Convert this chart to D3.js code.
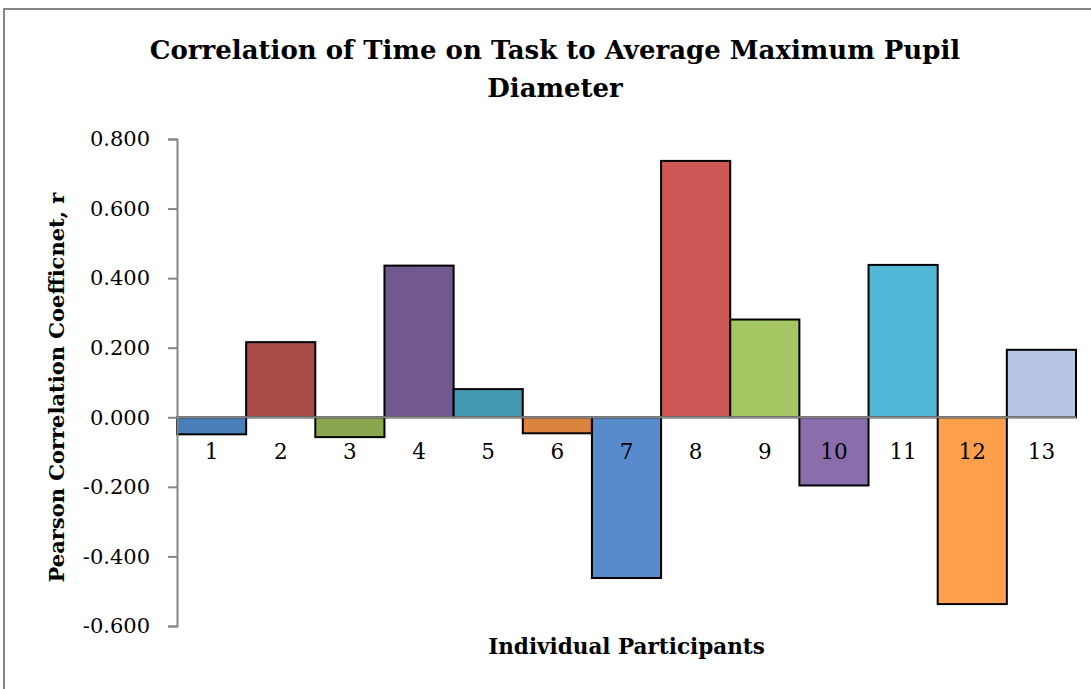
<!DOCTYPE html>
<html>
<head>
<meta charset="utf-8">
<script src="https://cdn.jsdelivr.net/npm/d3@7"></script>
<style>
  body { margin: 0; background: #fff; }
  svg { display: block; }
  text { font-family: "DejaVu Serif", serif; fill: #000; }
</style>
</head>
<body>
<svg id="chart" width="1091" height="689"></svg>
<script>
// Data.
const participants = ['1', '2', '3', '4', '5', '6', '7', '8', '9', '10', '11', '12', '13'];
const pearsonR = [-0.049, 0.216, -0.057, 0.436, 0.081, -0.046, -0.462, 0.737, 0.281, -0.196, 0.438, -0.537, 0.194];
const barColors = ['#4a7ebb', '#a84b48', '#8aa64f', '#71598f', '#4299b0', '#db843e',
  '#588bcc', '#cd5754', '#a6c663', '#8a6dab', '#52b7d6', '#fe9f4b', '#b6c5e5'];
const yTicks = [0.8, 0.6, 0.4, 0.2, 0, -0.2, -0.4, -0.6];

const svg = d3.select('#chart');
const margin = { left: 177, right: 1076, top: 139, bottom: 626 };
const font = '"DejaVu Serif", serif';

// Outer chart frame.
svg.append('rect')
  .attr('x', 4).attr('y', 9)
  .attr('width', 1100).attr('height', 700)
  .attr('fill', 'none')
  .attr('stroke', '#868686')
  .attr('stroke-width', 2);

const x = d3.scaleBand()
  .domain(participants)
  .range([margin.left, margin.right])
  .padding(0);

const y = d3.scaleLinear()
  .domain([-0.6, 0.8])
  .range([margin.bottom, margin.top]);

// Title.
const title = svg.append('g')
  .attr('font-size', 26).attr('font-weight', 'bold');
title.append('text')
  .attr('x', 555).attr('y', 59)
  .attr('text-anchor', 'middle')
  .text('Correlation of Time on Task to Average Maximum Pupil');
title.append('text')
  .attr('x', 555).attr('y', 97)
  .attr('text-anchor', 'middle')
  .text('Diameter');

// Bars.
svg.append('g')
  .selectAll('rect')
  .data(pearsonR)
  .join('rect')
    .attr('x', (d, i) => x(participants[i]))
    .attr('y', d => y(Math.max(0, d)))
    .attr('width', x.bandwidth())
    .attr('height', d => Math.abs(y(d) - y(0)))
    .attr('fill', (d, i) => barColors[i])
    .attr('stroke', '#000')
    .attr('stroke-width', 2);

// Y axis.
const yAxis = svg.append('g')
  .attr('transform', `translate(${margin.left},0)`)
  .call(d3.axisLeft(y).tickValues(yTicks).tickSize(9).tickPadding(18));
yAxis.attr('font-family', font).attr('font-size', 21);
yAxis.select('.domain').attr('stroke', '#868686').attr('stroke-width', 2);
yAxis.selectAll('.tick line').attr('stroke', '#868686').attr('stroke-width', 2);
yAxis.selectAll('.tick text')
  .attr('fill', '#000')
  .text(d => d3.format('.3f')(d).replace('−', '-'));

// Zero line.
svg.append('line')
  .attr('x1', margin.left).attr('x2', margin.right)
  .attr('y1', y(0)).attr('y2', y(0))
  .attr('stroke', '#868686')
  .attr('stroke-width', 2);

// Category labels.
svg.append('g')
  .attr('font-size', 21.5)
  .selectAll('text')
  .data(participants)
  .join('text')
    .attr('x', d => x(d) + x.bandwidth() / 2)
    .attr('y', y(0) + 42)
    .attr('text-anchor', 'middle')
    .text(d => d);

// Axis titles.
svg.append('text')
  .attr('x', (margin.left + margin.right) / 2)
  .attr('y', 654)
  .attr('text-anchor', 'middle')
  .attr('font-size', 21.5).attr('font-weight', 'bold')
  .text('Individual Participants');

svg.append('text')
  .attr('transform', `translate(64,${(margin.top + margin.bottom) / 2 + 5}) rotate(-90)`)
  .attr('text-anchor', 'middle')
  .attr('font-size', 21).attr('font-weight', 'bold')
  .text('Pearson Correlation Coefficnet, r');
</script>
</body>
</html>
